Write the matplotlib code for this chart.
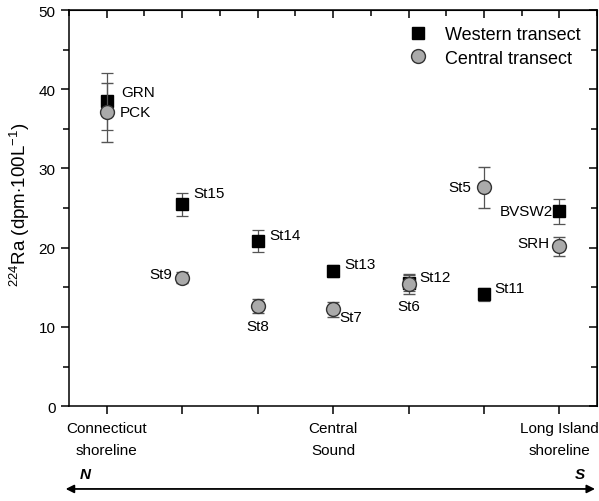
import numpy as np
from matplotlib import pyplot as plt
from matplotlib.lines import Line2D
from matplotlib.patches import FancyArrowPatch
from matplotlib.ticker import MultipleLocator, NullFormatter

plt.rcParams['font.family'] = ['Liberation Sans', 'DejaVu Sans']
plt.rcParams['mathtext.fontset'] = 'custom'
plt.rcParams['mathtext.rm'] = 'Liberation Sans'

# western transect (squares)
w_x = [1, 2, 3, 4, 5, 6, 7]
w_y = [38.5, 25.5, 20.8, 17.1, 15.5, 14.1, 24.6]
w_err = [3.6, 1.45, 1.4, 0.75, 1.0, 0.8, 1.6]
w_names = ['GRN', 'St15', 'St14', 'St13', 'St12', 'St11', 'BVSW2']

# central transect (circles)
c_x = [1, 2, 3, 4, 5, 6, 7]
c_y = [37.1, 16.2, 12.6, 12.2, 15.4, 27.6, 20.2]
c_err = [3.7, 0.7, 0.9, 0.9, 1.3, 2.6, 1.2]
c_names = ['PCK', 'St9', 'St8', 'St7', 'St6', 'St5', 'SRH']

tick_pos = [1, 2, 3, 4, 5, 6, 7]
tick_lab = ['Connecticut\nshoreline', '', '', 'Central\nSound', '', '', 'Long Island\nshoreline']

# label offsets in pixels (dx, dy, ha)
w_off = [(15, 9, 'left'), (11, 11, 'left'), (12, 6, 'left'), (11, 7, 'left'),
         (11, 6, 'left'), (10, 6, 'left'), (-6, 0, 'right')]
c_off = [(13, 0, 'left'), (-10, 4, 'right'), (0, -20, 'center'), (6, -8, 'left'),
         (0, -22, 'center'), (-13, 0, 'right'), (-10, 3, 'right')]

fig = plt.figure(figsize=(5.99, 5.02), dpi=100)
ax = fig.add_axes([0.115, 0.189, 0.882, 0.789])

ax.errorbar(w_x, w_y, yerr=w_err, fmt='s', color='black', ms=8.5,
            ecolor='#555555', elinewidth=0.9, capsize=4, capthick=0.9, zorder=3)
ax.errorbar(c_x, c_y, yerr=c_err, fmt='o', mfc='#aaaaaa', mec='#333333', mew=1.0,
            ms=10, ecolor='#555555', elinewidth=0.9, capsize=4, capthick=0.9, zorder=4)

for x, y, n, (dx, dy, ha) in zip(w_x, w_y, w_names, w_off):
    ax.annotate(n, (x, y), xytext=(dx, dy), textcoords='offset pixels',
                ha=ha, va='center', fontsize=11)
for x, y, n, (dx, dy, ha) in zip(c_x, c_y, c_names, c_off):
    ax.annotate(n, (x, y), xytext=(dx, dy), textcoords='offset pixels',
                ha=ha, va='center', fontsize=11)

ax.set_xlim(0.5, 7.5)
ax.set_ylim(0, 50)
ax.set_xticks(tick_pos)
ax.set_xticklabels(tick_lab, fontsize=11, linespacing=1.7)
ax.yaxis.set_major_locator(MultipleLocator(10))
ax.yaxis.set_minor_locator(MultipleLocator(5))
ax.tick_params(axis='both', which='both', direction='out', width=1.1)
ax.tick_params(axis='both', which='major', length=6, labelsize=11)
ax.tick_params(axis='y', which='minor', length=4)
ax.tick_params(axis='x', which='major', pad=5)
ax.set_ylabel(r'$^{224}$Ra (dpm$\cdot$100L$^{-1}$)', fontsize=13.5)
ax.yaxis.set_label_coords(-0.07, 0.51)
for s in ax.spines.values():
    s.set_linewidth(1.1)

top = ax.secondary_xaxis('top')
top.set_xticks(tick_pos)
top.xaxis.set_minor_locator(MultipleLocator(0.5))
top.xaxis.set_major_formatter(NullFormatter())
top.tick_params(which='both', direction='in', width=1.1)
top.tick_params(which='major', length=6)
top.tick_params(which='minor', length=4)

right = ax.secondary_yaxis('right')
right.yaxis.set_major_locator(MultipleLocator(10))
right.yaxis.set_minor_locator(MultipleLocator(5))
right.yaxis.set_major_formatter(NullFormatter())
right.tick_params(which='both', direction='in', width=1.1)
right.tick_params(which='major', length=6)
right.tick_params(which='minor', length=4)

handles = [Line2D([], [], ls='none', marker='s', color='black', ms=8.5),
           Line2D([], [], ls='none', marker='o', mfc='#aaaaaa', mec='#333333',
                  mew=1.0, ms=10)]
ax.legend(handles, ['Western transect', 'Central transect'], loc='upper right',
          frameon=False, fontsize=13, handletextpad=1.0, borderaxespad=0.5,
          labelspacing=0.35, handlelength=1.0)

# N-S arrow under the axis
fig.patches.append(FancyArrowPatch(
    (0.105, 0.024), (0.998, 0.024), transform=fig.transFigure,
    arrowstyle='<|-|>', mutation_scale=12, lw=1.3, color='black'))
fig.text(0.142, 0.054, 'N', fontsize=11, fontweight='bold', style='italic',
         ha='center', va='center')
fig.text(0.968, 0.054, 'S', fontsize=11, fontweight='bold', style='italic',
         ha='center', va='center')

fig.savefig('out.png', dpi=100)
